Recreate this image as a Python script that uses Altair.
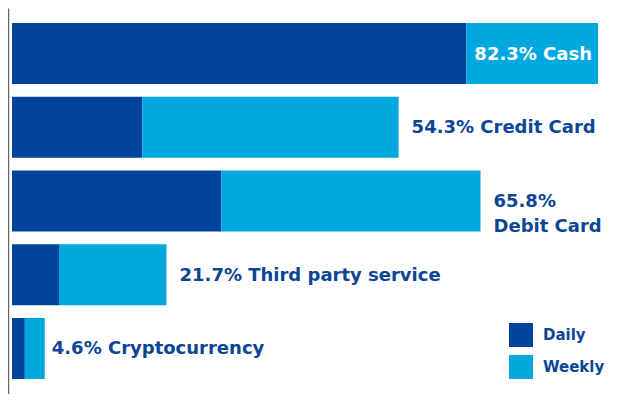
import altair as alt
import pandas as pd

categories = ["Cash", "Credit Card", "Debit Card", "Third party service", "Cryptocurrency"]
totals = [82.3, 54.3, 65.8, 21.7, 4.6]
daily = [63.8, 18.3, 29.4, 6.6, 1.8]
weekly = [18.5, 36.0, 36.4, 15.1, 2.8]
labels = ["82.3% Cash", "54.3% Credit Card", "65.8%\nDebit Card", "21.7% Third party service", "4.6% Cryptocurrency"]

DARK = "#00449b"
LIGHT = "#00a8e0"
TEXT = "#0b4595"
FONT = "DejaVu Sans"

rows = []
for c, d, w in zip(categories, daily, weekly):
    rows.append({"cat": c, "freq": "Daily", "val": d, "ord": 0})
    rows.append({"cat": c, "freq": "Weekly", "val": w, "ord": 1})
bars_df = pd.DataFrame(rows)
lab_df = pd.DataFrame({"cat": categories, "total": totals, "label": labels})

xscale = alt.Scale(domain=[-0.562, 83.71], nice=False, zero=False)
yscale = alt.Scale(domain=categories, paddingInner=0.173, paddingOuter=0.2035)

bars = alt.Chart(bars_df).mark_bar().encode(
    y=alt.Y("cat:N", scale=yscale, sort=categories,
            axis=alt.Axis(labels=False, ticks=False, title=None, domain=True,
                          domainColor="#666666", domainWidth=1.5, grid=False)),
    x=alt.X("val:Q", stack="zero", scale=xscale, axis=None),
    color=alt.Color("freq:N", scale=alt.Scale(domain=["Daily", "Weekly"], range=[DARK, LIGHT]),
                    legend=alt.Legend(title=None, orient="none", legendX=501, legendY=315,
                                      symbolType="square", symbolSize=576, symbolStrokeWidth=0,
                                      symbolOpacity=1,
                                      labelFont=FONT, labelFontSize=15, labelFontWeight="bold",
                                      labelColor=TEXT, labelOffset=10, rowPadding=8)),
    order=alt.Order("ord:Q"),
)

base_t = alt.Chart(lab_df).encode(
    y=alt.Y("cat:N", scale=yscale, sort=categories),
    x=alt.X("total:Q", scale=xscale),
    text="label:N",
)

inside = base_t.transform_filter(alt.datum.cat == "Cash").mark_text(
    align="right", baseline="middle", dx=-6, dy=1, font=FONT, fontSize=18, fontWeight="bold", color="white")

outside = base_t.transform_filter(
    (alt.datum.cat != "Cash") & (alt.datum.cat != "Cryptocurrency")
).mark_text(align="left", baseline="middle", dx=13, dy=1, font=FONT, fontSize=18, fontWeight="bold",
            color=TEXT, lineBreak="\n", lineHeight=25)

crypto = base_t.transform_filter(alt.datum.cat == "Cryptocurrency").mark_text(
    align="left", baseline="middle", dx=7, dy=1, font=FONT, fontSize=18, fontWeight="bold", color=TEXT)

chart = alt.layer(bars, inside, outside, crypto).properties(
    width=600, height=386, padding=0, autosize=alt.AutoSizeParams(type="none")
).configure_view(stroke=None)

chart.save("out.html", embed_options={"renderer": "svg", "actions": False})
